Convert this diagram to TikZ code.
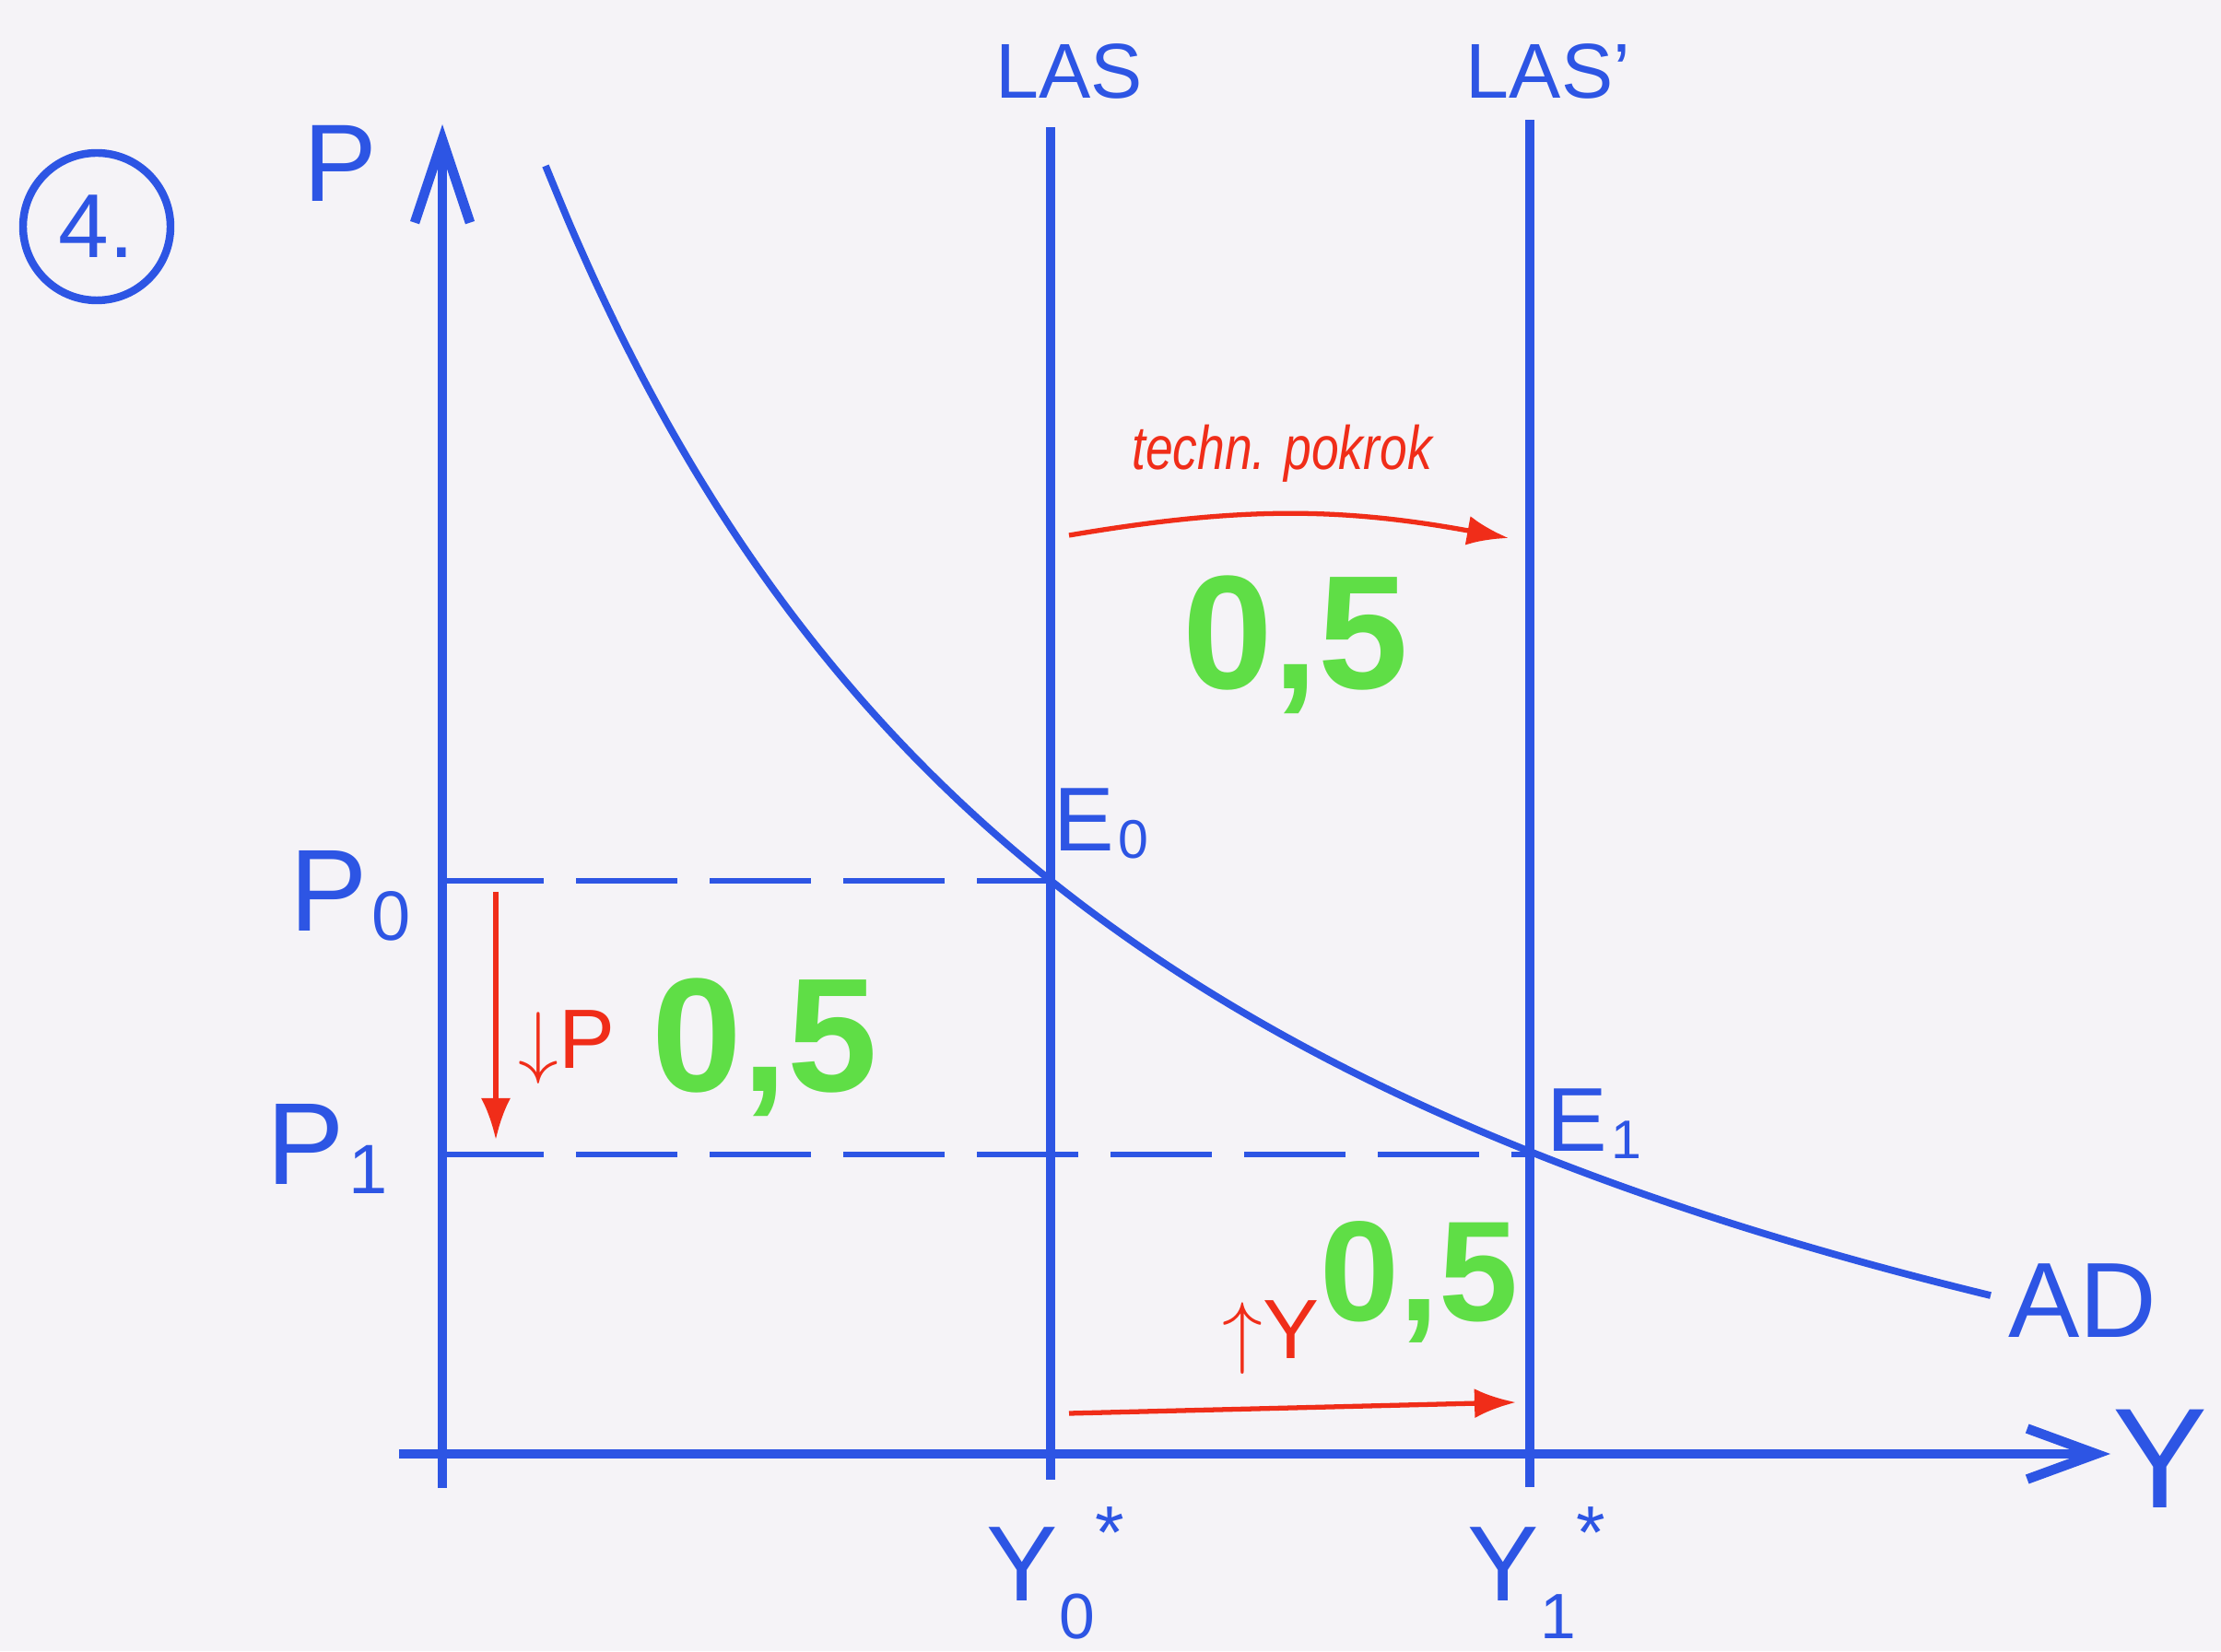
\documentclass[tikz,border=0pt]{standalone}
\usepackage{fontspec}
\setmainfont{Liberation Sans}
\usetikzlibrary{arrows.meta,calc,positioning}
\definecolor{penblue}{RGB}{45,85,228}
\definecolor{penred}{RGB}{240,45,25}
\definecolor{pengreen}{RGB}{95,222,70}
\definecolor{paper}{RGB}{245,243,247}
\newcommand{\idx}[1]{\kern0.04em\raisebox{-0.08em}{\scalebox{0.6}{#1}}}
\newcommand{\staridx}[1]{\kern0.02em\raisebox{-0.35em}{\scalebox{0.6}{#1}}\raisebox{0.4em}{\scalebox{0.7}{*}}}

\begin{document}
\begin{tikzpicture}[
  axis/.style={penblue, line width=3pt},
  las/.style={penblue, line width=2.6pt},
  guide/.style={penblue, line width=1.8pt, dash pattern=on 1.1cm off 0.35cm},
  adcurve/.style={penblue, line width=2.2pt},
  shiftarrow/.style={penred, line width=1.5pt, -{Latex[length=0.45cm,width=0.32cm]}},
  lbl/.style={text=penblue, inner sep=0pt},
  score/.style={text=pengreen, inner sep=0pt, font=\fontsize{50}{50}\selectfont\bfseries},
  note/.style={text=penred, inner sep=0pt, font=\fontsize{26}{26}\selectfont}
]
\useasboundingbox[fill=paper] (0,0) rectangle (24.10,17.92);

% Axes
\coordinate (O) at (4.80,2.14);
\coordinate (Ptop) at (4.80,16.57);
\coordinate (Pbot) at (4.80,1.77);
\coordinate (Yleft) at (4.33,2.14);
\coordinate (Yright) at (22.90,2.14);
\draw[axis, -{Straight Barb[length=0.9cm,width=0.6cm]}] (Pbot) -- (Ptop);
\draw[axis, -{Straight Barb[length=0.75cm,width=0.55cm]}] (Yleft) -- (Yright);
\node[lbl, font=\fontsize{34}{34}\selectfont] (plab) at (3.69,16.15) {P};
\node[lbl, font=\fontsize{44}{44}\selectfont] (ylab) at (23.44,2.09) {Y};
\node[lbl, draw=penblue, line width=2.4pt, circle, minimum size=1.6cm, font=\fontsize{28}{28}\selectfont] (task) at (1.05,15.46) {4.};

% LAS lines
\coordinate (las0top) at (11.40,16.54);
\coordinate (las0bot) at (11.40,1.86);
\coordinate (las1top) at (16.60,16.62);
\coordinate (las1bot) at (16.60,1.78);
\draw[las] (las0bot) -- (las0top);
\draw[las] (las1bot) -- (las1top);
\node[lbl, font=\fontsize{24}{24}\selectfont] (las0) at (11.60,17.15) {LAS};
\node[lbl, font=\fontsize{24}{24}\selectfont] (las1) at (16.80,17.15) {LAS'};
\node[lbl, font=\fontsize{33}{33}\selectfont] (y0) at (11.45,0.85) {Y\staridx{0}};
\node[lbl, font=\fontsize{33}{33}\selectfont] (y1) at (16.67,0.85) {Y\staridx{1}};

% AD curve and equilibria
\draw[adcurve] plot[domain=5.92:21.6, samples=60, smooth] (\x,{-1.7+126.7/(\x+1.19)});
\coordinate (E0) at (11.40,8.36);
\coordinate (E1) at (16.60,5.39);
\node[lbl, font=\fontsize{33}{33}\selectfont] (adlab) at (22.60,3.80) {AD};
\node[lbl, font=\fontsize{28}{28}\selectfont] (e0lab) at (11.95,8.98) {E\idx{0}};
\node[lbl, font=\fontsize{28}{28}\selectfont] (e1lab) at (17.30,5.72) {E\idx{1}};

% Price levels
\draw[guide] (O |- E0) -- (E0);
\draw[guide] (O |- E1) -- (E1);
\node[lbl, font=\fontsize{36}{36}\selectfont] (p0lab) at (3.80,8.20) {P\idx{0}};
\node[lbl, font=\fontsize{36}{36}\selectfont] (p1lab) at (3.55,5.45) {P\idx{1}};

% Shifts
\coordinate (techA) at (11.60,12.11);
\coordinate (techB) at (16.37,12.08);
\draw[shiftarrow] (techA) to[bend left=10] (techB);
\node[note, font=\fontsize{19}{19}\selectfont\itshape, xscale=0.8] (tech) at (13.91,13.00) {techn. pokrok};
\coordinate (dpA) at (5.38,8.24);
\coordinate (dpB) at (5.38,5.55);
\draw[shiftarrow] (dpA) -- (dpB);
\node[note] (dplab) at (6.15,6.55) {$\downarrow$P};
\coordinate (uyA) at (11.60,2.58);
\coordinate (uyB) at (16.45,2.70);
\draw[shiftarrow] (uyA) -- (uyB);
\node[note] (uylab) at (13.79,3.40) {$\uparrow$Y};

% Points
\node[score] (ptsA) at (14.06,10.92) {0,5};
\node[score] (ptsB) at (8.30,6.55) {0,5};
\node[score, font=\fontsize{44}{44}\selectfont\bfseries] (ptsC) at (15.40,4.01) {0,5};
\end{tikzpicture}
\end{document}
